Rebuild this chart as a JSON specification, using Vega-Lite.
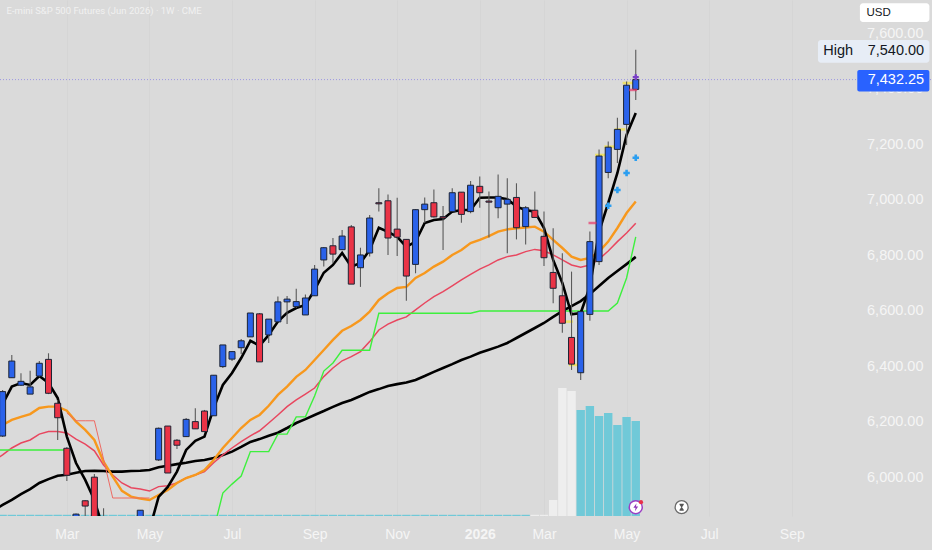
{
  "$schema": "https://vega.github.io/schema/vega-lite/v6.json",
  "width": 932,
  "height": 516,
  "autosize": {"type": "none"},
  "padding": {"left": 0, "top": 0, "right": 0, "bottom": 34},
  "background": "#dadada",
  "datasets": {
    "weeks": [
      {"date":"2025-01-05","open":6100,"high":6150,"low":6090,"close":6140,"dir":"up","volume":12,"contract":"front","fast":6240,"mid":6175,"sig":6060,"slow":5882,"base":6099,"trail":null},
      {"date":"2025-01-12","open":6149,"high":6315,"low":6146,"close":6309,"dir":"up","volume":12,"contract":"front","fast":6264,"mid":6189,"sig":6081,"slow":5901,"base":6099,"trail":null},
      {"date":"2025-01-19","open":6359,"high":6441,"low":6358,"close":6419,"dir":"up","volume":12,"contract":"front","fast":6327,"mid":6207,"sig":6106,"slow":5919,"base":6099,"trail":null},
      {"date":"2025-01-26","open":6332,"high":6375,"low":6329,"close":6346,"dir":"up","volume":12,"contract":"front","fast":6340,"mid":6218,"sig":6124,"slow":5940,"base":6099,"trail":null},
      {"date":"2025-02-02","open":6300,"high":6384,"low":6300,"close":6326,"dir":"up","volume":12,"contract":"front","fast":6333,"mid":6228,"sig":6135,"slow":5958,"base":6099,"trail":null},
      {"date":"2025-02-09","open":6365,"high":6419,"low":6362,"close":6411,"dir":"up","volume":12,"contract":"front","fast":6365,"mid":6250,"sig":6156,"slow":5980,"base":6099,"trail":null},
      {"date":"2025-02-16","open":6425,"high":6447,"low":6300,"close":6303,"dir":"down","volume":12,"contract":"front","fast":6340,"mid":6255,"sig":6165,"slow":5994,"base":6099,"trail":null},
      {"date":"2025-02-23","open":6267,"high":6279,"low":6135,"close":6215,"dir":"down","volume":12,"contract":"front","fast":6286,"mid":6255,"sig":6165,"slow":6006,"base":6099,"trail":null},
      {"date":"2025-03-02","open":6105,"high":6110,"low":5987,"close":6008,"dir":"down","volume":12,"contract":"front","fast":6147,"mid":6240,"sig":6160,"slow":6010,"base":6099,"trail":6232},
      {"date":"2025-03-09","open":5811,"high":5870,"low":5775,"close":5868,"dir":"up","volume":12,"contract":"front","fast":6052,"mid":6201,"sig":6138,"slow":6017,"base":null,"trail":6204},
      {"date":"2025-03-16","open":5916,"high":5918,"low":5829,"close":5897,"dir":"down","volume":12,"contract":"front","fast":5991,"mid":6171,"sig":6120,"slow":6023,"base":null,"trail":6204},
      {"date":"2025-03-23","open":6001,"high":6012,"low":5667,"close":5703,"dir":"down","volume":12,"contract":"front","fast":5919,"mid":6135,"sig":6096,"slow":6024,"base":null,"trail":6204},
      {"date":"2025-03-30","open":5811,"high":5889,"low":5487,"close":5559,"dir":"down","volume":12,"contract":"front","fast":5811,"mid":6057,"sig":6045,"slow":6023,"base":null,"trail":6066},
      {"date":"2025-04-06","open":5560,"high":5600,"low":4830,"close":5330,"dir":"down","volume":12,"contract":"front","fast":5703,"mid":6003,"sig":6009,"slow":6021,"base":null,"trail":5926},
      {"date":"2025-04-13","open":5330,"high":5560,"low":5200,"close":5520,"dir":"up","volume":12,"contract":"front","fast":5631,"mid":5952,"sig":5980,"slow":6021,"base":null,"trail":5926},
      {"date":"2025-04-20","open":5520,"high":5590,"low":5120,"close":5300,"dir":"down","volume":12,"contract":"front","fast":5631,"mid":5931,"sig":5963,"slow":6023,"base":null,"trail":5926},
      {"date":"2025-04-27","open":5560,"high":5883,"low":5500,"close":5882,"dir":"up","volume":12,"contract":"front","fast":5703,"mid":5924,"sig":5958,"slow":6024,"base":null,"trail":5926},
      {"date":"2025-05-04","open":5790,"high":5850,"low":5700,"close":5840,"dir":"up","volume":12,"contract":"front","fast":5811,"mid":5919,"sig":5951,"slow":6027,"base":null,"trail":5926},
      {"date":"2025-05-11","open":6063,"high":6180,"low":6059,"close":6177,"dir":"up","volume":12,"contract":"front","fast":5930,"mid":5937,"sig":5967,"slow":6037,"base":null,"trail":null},
      {"date":"2025-05-18","open":6185,"high":6185,"low":6016,"close":6016,"dir":"down","volume":12,"contract":"front","fast":5966,"mid":5955,"sig":5970,"slow":6042,"base":null,"trail":null},
      {"date":"2025-05-25","open":6134,"high":6138,"low":6102,"close":6116,"dir":"down","volume":12,"contract":"front","fast":6021,"mid":5980,"sig":5980,"slow":6048,"base":null,"trail":null},
      {"date":"2025-06-01","open":6147,"high":6214,"low":6146,"close":6209,"dir":"up","volume":12,"contract":"front","fast":6099,"mid":5998,"sig":5998,"slow":6053,"base":null,"trail":null},
      {"date":"2025-06-08","open":6201,"high":6249,"low":6174,"close":6175,"dir":"down","volume":12,"contract":"front","fast":6132,"mid":6009,"sig":6009,"slow":6059,"base":null,"trail":null},
      {"date":"2025-06-15","open":6239,"high":6243,"low":6164,"close":6165,"dir":"down","volume":12,"contract":"front","fast":6147,"mid":6027,"sig":6021,"slow":6063,"base":null,"trail":null},
      {"date":"2025-06-22","open":6222,"high":6369,"low":6221,"close":6368,"dir":"up","volume":12,"contract":"front","fast":6250,"mid":6063,"sig":6053,"slow":6070,"base":5811,"trail":null},
      {"date":"2025-06-29","open":6399,"high":6477,"low":6394,"close":6477,"dir":"up","volume":12,"contract":"front","fast":6333,"mid":6106,"sig":6081,"slow":6081,"base":5944,"trail":null},
      {"date":"2025-07-06","open":6426,"high":6455,"low":6419,"close":6453,"dir":"up","volume":12,"contract":"front","fast":6376,"mid":6142,"sig":6106,"slow":6093,"base":5976,"trail":null},
      {"date":"2025-07-13","open":6467,"high":6498,"low":6444,"close":6492,"dir":"up","volume":12,"contract":"front","fast":6430,"mid":6178,"sig":6129,"slow":6110,"base":6005,"trail":null},
      {"date":"2025-07-20","open":6506,"high":6592,"low":6506,"close":6592,"dir":"up","volume":12,"contract":"front","fast":6492,"mid":6207,"sig":6150,"slow":6128,"base":6093,"trail":null},
      {"date":"2025-07-27","open":6589,"high":6592,"low":6416,"close":6416,"dir":"down","volume":12,"contract":"front","fast":6474,"mid":6225,"sig":6168,"slow":6138,"base":6093,"trail":null},
      {"date":"2025-08-03","open":6513,"high":6570,"low":6484,"close":6570,"dir":"up","volume":12,"contract":"front","fast":6513,"mid":6258,"sig":6196,"slow":6150,"base":6093,"trail":null},
      {"date":"2025-08-10","open":6560,"high":6651,"low":6560,"close":6632,"dir":"up","volume":12,"contract":"front","fast":6561,"mid":6297,"sig":6225,"slow":6161,"base":6156,"trail":null},
      {"date":"2025-08-17","open":6632,"high":6653,"low":6552,"close":6642,"dir":"up","volume":12,"contract":"front","fast":6593,"mid":6327,"sig":6255,"slow":6178,"base":6156,"trail":null},
      {"date":"2025-08-24","open":6615,"high":6679,"low":6610,"close":6633,"dir":"up","volume":12,"contract":"front","fast":6610,"mid":6362,"sig":6279,"slow":6196,"base":6218,"trail":null},
      {"date":"2025-08-31","open":6585,"high":6659,"low":6585,"close":6646,"dir":"up","volume":12,"contract":"front","fast":6621,"mid":6387,"sig":6300,"slow":6210,"base":6218,"trail":null},
      {"date":"2025-09-07","open":6654,"high":6765,"low":6653,"close":6750,"dir":"up","volume":12,"contract":"front","fast":6675,"mid":6423,"sig":6322,"slow":6225,"base":6293,"trail":null},
      {"date":"2025-09-14","open":6783,"high":6830,"low":6759,"close":6827,"dir":"up","volume":12,"contract":"front","fast":6737,"mid":6459,"sig":6363,"slow":6239,"base":6383,"trail":null},
      {"date":"2025-09-21","open":6834,"high":6862,"low":6772,"close":6804,"dir":"down","volume":12,"contract":"front","fast":6765,"mid":6495,"sig":6394,"slow":6254,"base":6412,"trail":null},
      {"date":"2025-09-28","open":6820,"high":6891,"low":6819,"close":6869,"dir":"up","volume":12,"contract":"front","fast":6808,"mid":6528,"sig":6420,"slow":6268,"base":6458,"trail":null},
      {"date":"2025-10-05","open":6902,"high":6909,"low":6696,"close":6696,"dir":"down","volume":12,"contract":"front","fast":6759,"mid":6545,"sig":6435,"slow":6279,"base":6458,"trail":null},
      {"date":"2025-10-12","open":6755,"high":6827,"low":6686,"close":6801,"dir":"up","volume":12,"contract":"front","fast":6772,"mid":6567,"sig":6453,"slow":6293,"base":6458,"trail":null},
      {"date":"2025-10-19","open":6808,"high":6945,"low":6795,"close":6934,"dir":"up","volume":12,"contract":"front","fast":6819,"mid":6597,"sig":6489,"slow":6308,"base":6458,"trail":null},
      {"date":"2025-10-26","open":6989,"high":7041,"low":6957,"close":6985,"dir":"down","volume":12,"contract":"front","fast":6899,"mid":6639,"sig":6531,"slow":6318,"base":6591,"trail":null},
      {"date":"2025-11-02","open":6996,"high":7019,"low":6801,"close":6862,"dir":"down","volume":12,"contract":"front","fast":6884,"mid":6663,"sig":6552,"slow":6329,"base":6591,"trail":null},
      {"date":"2025-11-09","open":6894,"high":7007,"low":6797,"close":6865,"dir":"down","volume":12,"contract":"front","fast":6866,"mid":6682,"sig":6567,"slow":6336,"base":6591,"trail":null},
      {"date":"2025-11-16","open":6857,"high":6858,"low":6636,"close":6725,"dir":"down","volume":12,"contract":"front","fast":6830,"mid":6686,"sig":6578,"slow":6342,"base":6591,"trail":null},
      {"date":"2025-11-23","open":6767,"high":6966,"low":6735,"close":6964,"dir":"up","volume":12,"contract":"front","fast":6849,"mid":6718,"sig":6603,"slow":6351,"base":6591,"trail":null},
      {"date":"2025-11-30","open":6964,"high":7008,"low":6916,"close":6984,"dir":"up","volume":12,"contract":"front","fast":6916,"mid":6736,"sig":6628,"slow":6365,"base":6591,"trail":null},
      {"date":"2025-12-07","open":6989,"high":7037,"low":6936,"close":6938,"dir":"down","volume":12,"contract":"front","fast":6927,"mid":6759,"sig":6651,"slow":6380,"base":6591,"trail":null},
      {"date":"2025-12-14","open":6939,"high":6977,"low":6819,"close":6934,"dir":"down","volume":12,"contract":"front","fast":6930,"mid":6777,"sig":6669,"slow":6394,"base":6591,"trail":null},
      {"date":"2025-12-21","open":6957,"high":7041,"low":6956,"close":7025,"dir":"up","volume":12,"contract":"front","fast":6957,"mid":6801,"sig":6690,"slow":6408,"base":6591,"trail":null},
      {"date":"2025-12-28","open":7027,"high":7028,"low":6917,"close":6947,"dir":"down","volume":12,"contract":"front","fast":6963,"mid":6819,"sig":6711,"slow":6423,"base":6591,"trail":null},
      {"date":"2026-01-04","open":6957,"high":7067,"low":6951,"close":7052,"dir":"up","volume":12,"contract":"front","fast":6963,"mid":6844,"sig":6731,"slow":6435,"base":6591,"trail":null},
      {"date":"2026-01-11","open":7048,"high":7083,"low":6971,"close":7025,"dir":"down","volume":12,"contract":"front","fast":7007,"mid":6855,"sig":6750,"slow":6449,"base":6599,"trail":null},
      {"date":"2026-01-18","open":6995,"high":7029,"low":6864,"close":6991,"dir":"down","volume":12,"contract":"front","fast":7008,"mid":6869,"sig":6765,"slow":6460,"base":6599,"trail":null},
      {"date":"2026-01-25","open":6971,"high":7091,"low":6933,"close":7012,"dir":"up","volume":12,"contract":"front","fast":7008,"mid":6885,"sig":6783,"slow":6471,"base":6599,"trail":null},
      {"date":"2026-02-01","open":6984,"high":7077,"low":6807,"close":7001,"dir":"up","volume":12,"contract":"front","fast":7002,"mid":6893,"sig":6795,"slow":6484,"base":6599,"trail":null},
      {"date":"2026-02-08","open":7008,"high":7059,"low":6857,"close":6899,"dir":"down","volume":12,"contract":"front","fast":6975,"mid":6897,"sig":6801,"slow":6502,"base":6599,"trail":null},
      {"date":"2026-02-15","open":6903,"high":6977,"low":6839,"close":6971,"dir":"up","volume":12,"contract":"front","fast":6963,"mid":6900,"sig":6813,"slow":6520,"base":6599,"trail":null},
      {"date":"2026-02-22","open":6962,"high":7029,"low":6934,"close":6936,"dir":"down","volume":12,"contract":"previous","fast":6957,"mid":6903,"sig":6821,"slow":6538,"base":6599,"trail":null},
      {"date":"2026-03-01","open":6868,"high":6957,"low":6761,"close":6791,"dir":"down","volume":12,"contract":"previous","fast":6898,"mid":6885,"sig":6816,"slow":6556,"base":6599,"trail":null},
      {"date":"2026-03-08","open":6738,"high":6897,"low":6627,"close":6681,"dir":"down","volume":160,"contract":"previous","fast":6783,"mid":6855,"sig":6801,"slow":6578,"base":6599,"trail":null},
      {"date":"2026-03-15","open":6654,"high":6807,"low":6521,"close":6555,"dir":"down","volume":1280,"contract":"previous","fast":6700,"mid":6826,"sig":6783,"slow":6599,"base":6599,"trail":null},
      {"date":"2026-03-22","open":6504,"high":6741,"low":6387,"close":6408,"dir":"down","volume":1250,"contract":"previous","fast":6587,"mid":6795,"sig":6765,"slow":6617,"base":6599,"trail":null},
      {"date":"2026-03-29","open":6377,"high":6599,"low":6351,"close":6597,"dir":"up","volume":1060,"contract":"front","fast":6592,"mid":6783,"sig":6757,"slow":6635,"base":6599,"trail":null},
      {"date":"2026-04-05","open":6587,"high":6885,"low":6564,"close":6849,"dir":"up","volume":1100,"contract":"front","fast":6687,"mid":6790,"sig":6765,"slow":6660,"base":6599,"trail":null},
      {"date":"2026-04-12","open":6777,"high":7181,"low":6765,"close":7157,"dir":"up","volume":1000,"contract":"front","fast":6884,"mid":6813,"sig":6786,"slow":6689,"base":6599,"trail":null},
      {"date":"2026-04-19","open":7098,"high":7209,"low":7077,"close":7189,"dir":"up","volume":1030,"contract":"front","fast":6988,"mid":6849,"sig":6815,"slow":6718,"base":6599,"trail":null},
      {"date":"2026-04-26","open":7181,"high":7295,"low":7132,"close":7253,"dir":"up","volume":910,"contract":"front","fast":7096,"mid":6898,"sig":6849,"slow":6743,"base":6628,"trail":null},
      {"date":"2026-05-03","open":7271,"high":7425,"low":7197,"close":7412,"dir":"up","volume":990,"contract":"front","fast":7233,"mid":6952,"sig":6880,"slow":6768,"base":6718,"trail":null},
      {"date":"2026-05-10","open":7397,"high":7540,"low":7359,"close":7432.25,"dir":"up","volume":950,"contract":"front","fast":7312,"mid":6993,"sig":6915,"slow":6794,"base":6866,"trail":null}
    ],
    "signals": [
      {"date":"2026-04-19","price":6978,"kind":"plus"},
      {"date":"2026-04-26","price":7035,"kind":"plus"},
      {"date":"2026-05-03","price":7096,"kind":"plus"},
      {"date":"2026-05-10","price":7151,"kind":"plus"},
      {"date":"2026-05-10","price":7441,"kind":"top"},
      {"date":"2026-04-13","price":7161,"kind":"yellow"},
      {"date":"2026-04-20","price":7191,"kind":"yellow"},
      {"date":"2026-04-28","price":7253,"kind":"yellow"},
      {"date":"2026-05-04","price":7420,"kind":"yellow"},
      {"date":"2026-03-19","price":6561,"kind":"yellow"},
      {"date":"2026-03-24","price":6405,"kind":"yellow"},
      {"date":"2026-04-07","price":6916,"kind":"pink"},
      {"date":"2026-05-08","price":7395,"kind":"pink"}
    ]
  },
  "encoding": {
    "x": {
      "field": "date",
      "type": "temporal",
      "title": null,
      "scale": {
        "type": "utc",
        "padding": 0,
        "domain": [
          {"year": 2025, "month": 1, "date": 10, "utc": true},
          {"year": 2026, "month": 12, "date": 22, "utc": true}
        ]
      },
      "axis": {
        "values": [
          {"year": 2025, "month": 3, "date": 2, "utc": true},
          {"year": 2025, "month": 5, "date": 4, "utc": true},
          {"year": 2025, "month": 7, "date": 6, "utc": true},
          {"year": 2025, "month": 9, "date": 7, "utc": true},
          {"year": 2025, "month": 11, "date": 9, "utc": true},
          {"year": 2026, "month": 1, "date": 11, "utc": true},
          {"year": 2026, "month": 3, "date": 1, "utc": true},
          {"year": 2026, "month": 5, "date": 3, "utc": true},
          {"year": 2026, "month": 7, "date": 5, "utc": true},
          {"year": 2026, "month": 9, "date": 6, "utc": true}
        ],
        "labelExpr": "utcmonth(datum.value) == 0 ? '2026' : utcFormat(datum.value, '%b')",
        "labelFont": "Liberation Sans",
        "labelFontSize": 14,
        "labelFontWeight": {"condition": {"test": "utcmonth(datum.value) == 0", "value": "bold"}, "value": "normal"},
        "labelColor": "#f5f5f5",
        "labelPadding": 11,
        "labelOverlap": false,
        "labelFlush": false,
        "domain": false,
        "ticks": false,
        "grid": true,
        "gridColor": "#d5d5d5",
        "gridWidth": 1
      }
    }
  },
  "layer": [
    {
      "data": {"name": "weeks"},
      "mark": {"type": "bar", "size": 8.4, "clip": true},
      "encoding": {
        "y": {"field": "volume", "type": "quantitative", "axis": null, "scale": {"domain": [0, 5160]}},
        "color": {
          "field": "contract",
          "type": "nominal",
          "legend": null,
          "scale": {"domain": ["previous", "front"], "range": ["#eeeeee", "#70c9d8"]}
        }
      }
    },
    {
      "layer": [
        {
          "data": {"values": [{"date": "2025-01-10", "end": "2026-12-22", "price": 7432.25}]},
          "mark": {"type": "rule", "color": "#9c97e2", "strokeWidth": 1, "strokeDash": [1, 2]},
          "encoding": {
            "x2": {"field": "end"},
            "y": {
              "field": "price",
              "type": "quantitative",
              "title": null,
              "scale": {"domain": [5861.2, 7718.8], "nice": false, "zero": false},
              "axis": {
                "orient": "right",
                "values": [6000, 6200, 6400, 6600, 6800, 7000, 7200, 7400, 7600],
                "format": ",.2f",
                "labelFont": "Liberation Sans",
                "labelFontSize": 14.5,
                "labelColor": "#f5f5f5",
                "labelAlign": "right",
                "labelPadding": -9,
                "labelOverlap": false,
                "domain": false,
                "ticks": false,
                "grid": false
              }
            }
          }
        },
        {
          "data": {"name": "weeks"},
          "mark": {"type": "line", "color": "#000000", "strokeWidth": 2.6, "clip": true},
          "encoding": {"y": {"field": "slow", "type": "quantitative", "title": null}}
        },
        {
          "data": {"name": "weeks"},
          "mark": {"type": "line", "color": "#e8475f", "strokeWidth": 1.5, "clip": true},
          "encoding": {"y": {"field": "sig", "type": "quantitative", "title": null}}
        },
        {
          "data": {"name": "weeks"},
          "mark": {"type": "line", "color": "#f7981d", "strokeWidth": 2.4, "clip": true},
          "encoding": {"y": {"field": "mid", "type": "quantitative", "title": null}}
        },
        {
          "data": {"name": "weeks"},
          "mark": {"type": "line", "color": "#ee6a63", "strokeWidth": 1, "clip": true},
          "encoding": {"y": {"field": "trail", "type": "quantitative", "title": null}}
        },
        {
          "data": {"name": "weeks"},
          "mark": {"type": "line", "color": "#3df03d", "strokeWidth": 1.4, "clip": true},
          "encoding": {"y": {"field": "base", "type": "quantitative", "title": null}}
        },
        {
          "data": {"name": "weeks"},
          "mark": {"type": "line", "color": "#000000", "strokeWidth": 2.6, "clip": true},
          "encoding": {"y": {"field": "fast", "type": "quantitative", "title": null}}
        },
        {
          "data": {"name": "signals"},
          "transform": [{"filter": "datum.kind == 'yellow'"}],
          "mark": {"type": "point", "shape": "stroke", "size": 110, "color": "#f6e33a", "strokeWidth": 2.5, "clip": true},
          "encoding": {"y": {"field": "price", "type": "quantitative", "title": null}}
        },
        {
          "data": {"name": "weeks"},
          "mark": {"type": "rule", "color": "#5a5a5a", "strokeWidth": 1.1, "clip": true},
          "encoding": {
            "y": {"field": "low", "type": "quantitative", "title": null},
            "y2": {"field": "high"}
          }
        },
        {
          "data": {"name": "weeks"},
          "mark": {"type": "bar", "orient": "vertical", "size": 6, "stroke": "#1d2434", "strokeWidth": 1, "clip": true},
          "encoding": {
            "y": {"field": "open", "type": "quantitative", "title": null},
            "y2": {"field": "close"},
            "fill": {
              "field": "dir",
              "type": "nominal",
              "legend": null,
              "scale": {"domain": ["up", "down"], "range": ["#2a62ea", "#ea3346"]}
            }
          }
        },
        {
          "data": {"name": "signals"},
          "transform": [{"filter": "datum.kind == 'pink'"}],
          "mark": {"type": "point", "shape": "stroke", "size": 64, "color": "#e8386a", "strokeWidth": 2.5, "clip": true},
          "encoding": {"y": {"field": "price", "type": "quantitative", "title": null}}
        },
        {
          "data": {"name": "signals"},
          "transform": [{"filter": "datum.kind == 'plus'"}],
          "mark": {"type": "point", "shape": "cross", "filled": true, "size": 42, "color": "#2b9ef0", "opacity": 1, "clip": true},
          "encoding": {"y": {"field": "price", "type": "quantitative", "title": null}}
        },
        {
          "data": {"name": "signals"},
          "transform": [{"filter": "datum.kind == 'top'"}],
          "mark": {"type": "point", "shape": "cross", "filled": true, "size": 36, "color": "#7a3fc8", "opacity": 1, "clip": true},
          "encoding": {"y": {"field": "price", "type": "quantitative", "title": null}}
        },
        {
          "data": {"values": [{"date": "2026-10-28", "end": "2026-12-20", "top": 7707, "bottom": 7640}]},
          "mark": {"type": "rect", "cornerRadius": 3, "fill": "#ffffff"},
          "encoding": {"x2": {"field": "end"}, "y": {"field": "top", "type": "quantitative", "title": null}, "y2": {"field": "bottom"}}
        },
        {
          "data": {"values": [{"date": "2026-09-26", "end": "2026-12-20", "top": 7575, "bottom": 7493}]},
          "mark": {"type": "rect", "cornerRadius": 3, "fill": "#e7edf6"},
          "encoding": {"x2": {"field": "end"}, "y": {"field": "top", "type": "quantitative", "title": null}, "y2": {"field": "bottom"}}
        },
        {
          "data": {"values": [{"date": "2026-10-26", "end": "2026-12-20", "top": 7467, "bottom": 7389}]},
          "mark": {"type": "rect", "cornerRadius": 2, "fill": "#2962ff"},
          "encoding": {"x2": {"field": "end"}, "y": {"field": "top", "type": "quantitative", "title": null}, "y2": {"field": "bottom"}}
        },
        {
          "data": {"values": [{"date": "2026-11-02", "price": 7673, "label": "USD"}]},
          "mark": {"type": "text", "align": "left", "baseline": "middle", "font": "Liberation Sans", "fontSize": 11.5, "color": "#131722"},
          "encoding": {"y": {"field": "price", "type": "quantitative", "title": null}, "text": {"field": "label"}}
        },
        {
          "data": {"values": [{"date": "2026-09-30", "price": 7535, "label": "High"}]},
          "mark": {"type": "text", "align": "left", "baseline": "middle", "font": "Liberation Sans", "fontSize": 14.5, "color": "#131722"},
          "encoding": {"y": {"field": "price", "type": "quantitative", "title": null}, "text": {"field": "label"}}
        },
        {
          "data": {"values": [{"date": "2026-12-16", "price": 7535, "label": "7,540.00"}]},
          "mark": {"type": "text", "align": "right", "baseline": "middle", "font": "Liberation Sans", "fontSize": 14.5, "color": "#131722"},
          "encoding": {"y": {"field": "price", "type": "quantitative", "title": null}, "text": {"field": "label"}}
        },
        {
          "data": {"values": [{"date": "2026-12-16", "price": 7430, "label": "7,432.25"}]},
          "mark": {"type": "text", "align": "right", "baseline": "middle", "font": "Liberation Sans", "fontSize": 14.5, "color": "#ffffff"},
          "encoding": {"y": {"field": "price", "type": "quantitative", "title": null}, "text": {"field": "label"}}
        },
        {
          "data": {"values": [{"date": "2025-01-15", "price": 7679, "label": "E-mini S&P 500 Futures (Jun 2026) · 1W · CME"}]},
          "mark": {"type": "text", "align": "left", "baseline": "middle", "font": "Roboto", "fontSize": 9.5, "color": "#f1f1f1"},
          "encoding": {"y": {"field": "price", "type": "quantitative", "title": null}, "text": {"field": "label"}}
        },
        {
          "data": {"values": [{"date": "2026-05-10", "price": 5893}]},
          "mark": {"type": "point", "shape": "circle", "filled": true, "fill": "#ffffff", "stroke": "#9c3fc4", "strokeWidth": 1.5, "opacity": 1, "size": 170},
          "encoding": {"y": {"field": "price", "type": "quantitative", "title": null}}
        },
        {
          "data": {"values": [{"date": "2026-05-10", "price": 5893}]},
          "mark": {"type": "point", "shape": "M0.2,-1L-0.6,0.15L-0.05,0.15L-0.2,1L0.6,-0.15L0.05,-0.15Z", "filled": true, "color": "#8e35b8", "opacity": 1, "size": 64},
          "encoding": {"y": {"field": "price", "type": "quantitative", "title": null}}
        },
        {
          "data": {"values": [{"date": "2026-05-14", "price": 5911}]},
          "mark": {"type": "point", "shape": "circle", "filled": true, "color": "#e8304a", "opacity": 1, "size": 18},
          "encoding": {"y": {"field": "price", "type": "quantitative", "title": null}}
        },
        {
          "data": {"values": [{"date": "2026-06-14", "price": 5893}]},
          "mark": {"type": "point", "shape": "circle", "filled": true, "fill": "#ffffff", "stroke": "#6a6a6a", "strokeWidth": 1.3, "opacity": 1, "size": 170},
          "encoding": {"y": {"field": "price", "type": "quantitative", "title": null}}
        },
        {
          "data": {"values": [{"date": "2026-06-14", "price": 5893}]},
          "mark": {"type": "point", "shape": "M-0.6,-1L0.6,-1L0.6,-0.7L0.1,0L0.6,0.7L0.6,1L-0.6,1L-0.6,0.7L-0.1,0L-0.6,-0.7Z", "filled": true, "color": "#555555", "opacity": 1, "size": 50},
          "encoding": {"y": {"field": "price", "type": "quantitative", "title": null}}
        }
      ]
    }
  ],
  "resolve": {"scale": {"y": "independent"}},
  "config": {"view": {"stroke": null}}
}
